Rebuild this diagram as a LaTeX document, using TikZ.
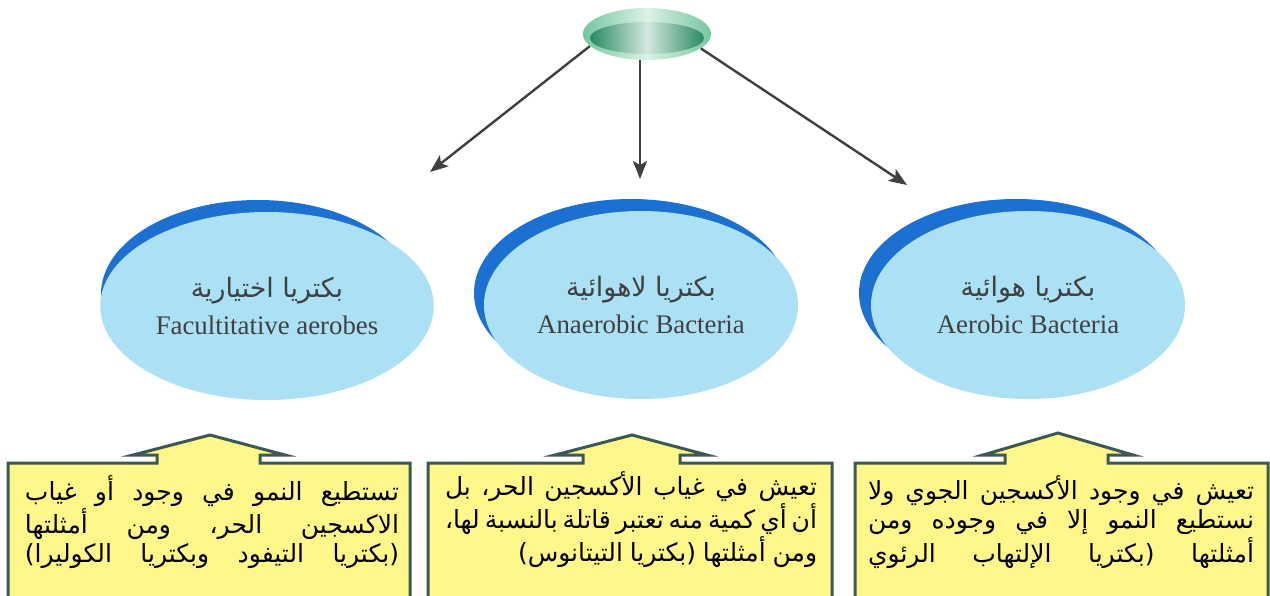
\documentclass[tikz,border=0pt]{standalone}
\usepackage{fontspec}
\setmainfont{Liberation Serif}
\newfontfamily\arabicfont[Script=Arabic]{DejaVu Sans}
\TeXXeTstate=1
\usetikzlibrary{shapes.geometric}
\usetikzlibrary{arrows.meta}

\definecolor{skyfill}{RGB}{172,224,245}
\definecolor{skyshade}{RGB}{28,112,210}
\definecolor{notefill}{RGB}{255,247,138}
\definecolor{noteline}{RGB}{60,88,84}
\definecolor{leafdark}{RGB}{40,138,98}
\definecolor{leaflight}{RGB}{118,198,158}
\definecolor{inkgray}{RGB}{64,64,64}

\tikzset{
  arr/.style={line width=1.2pt, draw=inkgray, -{Stealth[length=9pt, width=7pt, inset=2pt]}},
  group/.style={ellipse, fill=skyfill, minimum width=157pt, minimum height=94pt,
    align=center, text=inkgray, font=\fontsize{13.4}{18.5}\selectfont},
  note/.style={fill=notefill, draw=noteline, line width=1.5pt},
  notetext/.style={font=\arabicfont\fontsize{12.5}{14.6}\selectfont, text=black, inner sep=0pt},
}
\newcommand{\arline}[1]{\hbox to \hsize{\spaceskip=0.27em plus 1fil minus 0.1em\relax
  \beginR #1\endR}}
\newcommand{\arlast}[1]{\hbox to \hsize{\spaceskip=0.27em\relax\hfill\beginR #1\endR}}

\begin{document}
\begin{tikzpicture}[x=0.5pt, y=-0.5pt]
\useasboundingbox (0, 0) rectangle (1270, 595);
\fill[white] (0, 0) rectangle (1270, 595);
\node[ellipse, minimum width=64pt, minimum height=26pt, left color=leaflight,
  right color=leaflight, middle color=white!75!leaflight] (src) at (647, 34) {};
\shade[left color=leafdark, right color=leafdark, middle color=white!80!leafdark]
  (647, 38) ellipse [x radius=57, y radius=16];
\coordinate (tipL) at (430, 172);
\coordinate (tipM) at (640, 179);
\coordinate (tipR) at (907, 185);
\draw[arr] (src.192) -- (tipL);
\draw[arr] (src.south -| tipM) -- (tipM);
\draw[arr] (src.345) -- (tipR);
\fill[skyshade] (258, 294) ellipse [x radius=157, y radius=94];
\fill[skyshade] (631, 293) ellipse [x radius=157, y radius=94];
\fill[skyshade] (1016, 293) ellipse [x radius=157, y radius=94];
\node[group] (ellL) at (267, 306) {{\arabicfont\beginR بكتريا اختيارية\endR}\\Facultitative aerobes};
\node[group] (ellM) at (641, 305) {{\arabicfont\beginR بكتريا لاهوائية\endR}\\Anaerobic Bacteria};
\node[group] (ellR) at (1028, 305) {{\arabicfont\beginR بكتريا هوائية\endR}\\Aerobic Bacteria};
\filldraw[note] (8, 610) -- (8, 463) -- (157, 463) -- (157, 455) -- (133, 455) -- (210, 435)
  -- (285, 455) -- (260, 455) -- (260, 463) -- (410, 463) -- (410, 610) -- cycle;
\filldraw[note] (428, 610) -- (428, 463) -- (583, 463) -- (583, 455) -- (555, 455) -- (632, 435)
  -- (707, 455) -- (680, 455) -- (680, 463) -- (832, 463) -- (832, 610) -- cycle;
\filldraw[note] (855, 610) -- (855, 463) -- (1005, 463) -- (1005, 455) -- (983, 455) -- (1058, 433)
  -- (1133, 455) -- (1108, 455) -- (1108, 463) -- (1268, 463) -- (1268, 610) -- cycle;
\node[notetext, text width=187pt] (noteL) at (212, 522) {%
  \arline{تستطيع النمو في وجود أو غياب}
  \arline{الاكسجين الحر، ومن أمثلتها}
  \arline{(بكتريا التيفود وبكتريا الكوليرا)}};
\node[notetext, text width=186pt] (noteM) at (631, 520) {%
  \arline{تعيش في غياب الأكسجين الحر، بل}
  \arline{أن أي كمية منه تعتبر قاتلة بالنسبة لها،}
  \arlast{ومن أمثلتها (بكتريا التيتانوس)}};
\node[notetext, text width=193pt] (noteR) at (1061, 522) {%
  \arline{تعيش في وجود الأكسجين الجوي ولا}
  \arline{نستطيع النمو إلا في وجوده ومن}
  \arline{أمثلتها (بكتريا الإلتهاب الرئوي}};
\end{tikzpicture}
\end{document}
